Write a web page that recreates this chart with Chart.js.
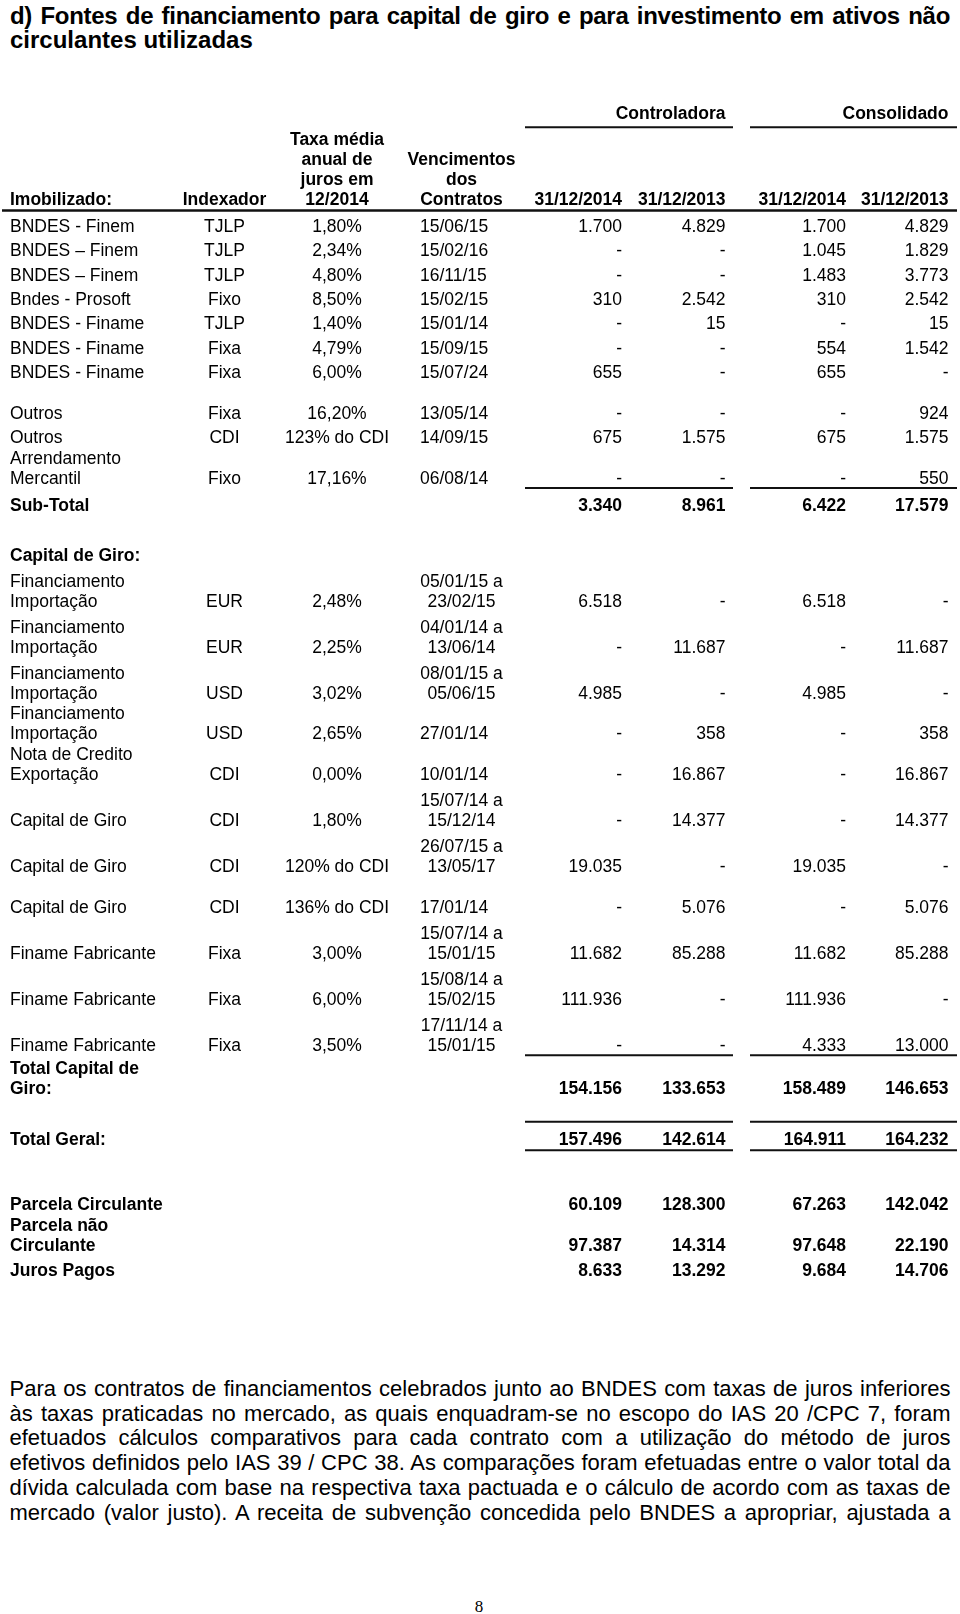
<!DOCTYPE html>
<html lang="pt-BR">
<head>
<meta charset="utf-8">
<title>Fontes de financiamento</title>
<script src="https://cdn.jsdelivr.net/npm/chart.js@4.4.1/dist/chart.umd.min.js"></script>
<style>
  html, body { margin: 0; padding: 0; background: #fff; }
  body { width: 960px; height: 1614px; position: relative; overflow: hidden;
         font-family: "Liberation Sans", Arial, sans-serif; color: #000; }
  #title { position: absolute; left: 10px; top: 3.8px; width: 940px;
           font-size: 24px; font-weight: bold; line-height: 23.7px; }
  #title .j { letter-spacing: -0.3px; }
  #chart { position: absolute; left: 0; top: 0; }
  #texto { position: absolute; left: 9.5px; top: 1377px; width: 941px;
           font-size: 22px; line-height: 24.7px; }
  .j { text-align: justify; text-align-last: justify; }
  #pagina { position: absolute; left: 0; width: 958px; top: 1597px; text-align: center;
            font-family: "Liberation Serif", "Times New Roman", serif; font-size: 17px; line-height: 20px; }
</style>
</head>
<body>
<div id="title">
  <div class="j">d) Fontes de financiamento para capital de giro e para investimento em ativos não</div>
  <div>circulantes utilizadas</div>
</div>
<canvas id="chart" width="960" height="1300" style="width:960px;height:1300px"></canvas>
<div id="texto">
  <div class="j">Para os contratos de financiamentos celebrados junto ao BNDES com taxas de juros inferiores</div>
  <div class="j">às taxas praticadas no mercado, as quais enquadram-se no escopo do IAS 20 /CPC 7, foram</div>
  <div class="j">efetuados cálculos comparativos para cada contrato com a utilização do método de juros</div>
  <div class="j">efetivos definidos pelo IAS 39 / CPC 38. As comparações foram efetuadas entre o valor total da</div>
  <div class="j">dívida calculada com base na respectiva taxa pactuada e o cálculo de acordo com as taxas de</div>
  <div class="j">mercado (valor justo). A receita de subvenção concedida pelo BNDES a apropriar, ajustada a</div>
</div>
<div id="pagina">8</div>
<script>
// table values, one array per column (null = empty cell, 0 = "-")
const groupLabels = ['Controladora', 'Consolidado'];
const headerLabels = ['Imobilizado:', 'Indexador', 'Taxa média\nanual de\njuros em\n12/2014',
  'Vencimentos\ndos\nContratos', '31/12/2014', '31/12/2013', '31/12/2014', '31/12/2013'];

const labels = ['BNDES - Finem', 'BNDES – Finem', 'BNDES – Finem', 'Bndes - Prosoft',
  'BNDES - Finame', 'BNDES - Finame', 'BNDES - Finame', 'Outros', 'Outros',
  'Arrendamento\nMercantil', 'Sub-Total', 'Capital de Giro:',
  'Financiamento\nImportação', 'Financiamento\nImportação', 'Financiamento\nImportação',
  'Financiamento\nImportação', 'Nota de Credito\nExportação', 'Capital de Giro',
  'Capital de Giro', 'Capital de Giro', 'Finame Fabricante', 'Finame Fabricante',
  'Finame Fabricante', 'Total Capital de\nGiro:', 'Total Geral:', 'Parcela Circulante',
  'Parcela não\nCirculante', 'Juros Pagos'];
const indexador = ['TJLP', 'TJLP', 'TJLP', 'Fixo', 'TJLP', 'Fixa', 'Fixa', 'Fixa', 'CDI', 'Fixo',
  null, null, 'EUR', 'EUR', 'USD', 'USD', 'CDI', 'CDI', 'CDI', 'CDI', 'Fixa', 'Fixa', 'Fixa',
  null, null, null, null, null];
const taxa = ['1,80%', '2,34%', '4,80%', '8,50%', '1,40%', '4,79%', '6,00%', '16,20%',
  '123% do CDI', '17,16%', null, null, '2,48%', '2,25%', '3,02%', '2,65%', '0,00%', '1,80%',
  '120% do CDI', '136% do CDI', '3,00%', '6,00%', '3,50%', null, null, null, null, null];
const vencimentos = ['15/06/15', '15/02/16', '16/11/15', '15/02/15', '15/01/14', '15/09/15',
  '15/07/24', '13/05/14', '14/09/15', '06/08/14', null, null, '05/01/15 a\n23/02/15',
  '04/01/14 a\n13/06/14', '08/01/15 a\n05/06/15', '27/01/14', '10/01/14', '15/07/14 a\n15/12/14',
  '26/07/15 a\n13/05/17', '17/01/14', '15/07/14 a\n15/01/15', '15/08/14 a\n15/02/15',
  '17/11/14 a\n15/01/15', null, null, null, null, null];
const ctrl2014 = [1700, 0, 0, 310, 0, 0, 655, 0, 675, 0, 3340, null, 6518, 0, 4985, 0, 0, 0,
  19035, 0, 11682, 111936, 0, 154156, 157496, 60109, 97387, 8633];
const ctrl2013 = [4829, 0, 0, 2542, 15, 0, 0, 0, 1575, 0, 8961, null, 0, 11687, 0, 358, 16867,
  14377, 0, 5076, 85288, 0, 0, 133653, 142614, 128300, 14314, 13292];
const cons2014 = [1700, 1045, 1483, 310, 0, 554, 655, 0, 675, 0, 6422, null, 6518, 0, 4985, 0,
  0, 0, 19035, 0, 11682, 111936, 4333, 158489, 164911, 67263, 97648, 9684];
const cons2013 = [4829, 1829, 3773, 2542, 15, 1542, 0, 924, 1575, 550, 17579, null, 0, 11687, 0,
  358, 16867, 14377, 0, 5076, 85288, 0, 13000, 146653, 164232, 142042, 22190, 14706];

// layout and style (table units = canvas px, mapped through the chart scales)
const FONT = '17.5px "Liberation Sans", Arial, sans-serif';
const LINE = 20;        // between lines of one cell
const STEP = 24.4;      // one-line row
const FIRST_ROW = 225.5;
const HEADER_BOTTOM = 199;
const GROUP_Y = 112.5;
const boldRows = [10, 11, 23, 24, 25, 26, 27];
const extraGap = { 7: 16, 10: 2.6, 11: 25.6, 19: 16.5, 23: 2, 24: 27, 25: 41, 26: 0, 27: 0.2 };
const rules = [{ row: 9, dy: 10.5 }, { row: 22, dy: 10.5 }, { row: 24, dy: -17 }, { row: 24, dy: 11.4 }];
const groupSpans = [[525, 733], [750, 957]];
const columns = [
  { x: 10, align: 'left' },
  { x: 224.5, align: 'center' },
  { x: 337, align: 'center' },
  { x: 461.5, align: 'center', singleX: 420, singleAlign: 'left' },
  { x: 622, align: 'right' },
  { x: 725.5, align: 'right' },
  { x: 846, align: 'right' },
  { x: 948.5, align: 'right' }
];

function fmt(v) {
  if (v === null || v === undefined) return null;
  if (typeof v === 'string') return v;
  if (v === 0) return '-';
  return String(v).replace(/\B(?=(\d{3})+(?!\d))/g, '.');
}

const cells = [labels, indexador, taxa, vencimentos, ctrl2014, ctrl2013, cons2014, cons2013]
  .map(col => col.map(fmt));

// bottom line position of every row, from the number of lines it holds
const rowY = [];
labels.forEach((_, i) => {
  if (i === 0) { rowY.push(FIRST_ROW); return; }
  const dateWraps = (vencimentos[i] || '').includes('\n');
  const wraps = cells.some(col => (col[i] || '').includes('\n'));
  let step = STEP + (dateWraps ? 21.6 : wraps ? 16.3 : 0) + (extraGap[i] || 0);
  rowY.push(rowY[i - 1] + step);
});

function drawLines(ctx, text, px, yBottom, align, ys) {
  const lines = text.split('\n');
  ctx.textAlign = align;
  lines.forEach((line, k) => {
    const y = ys.getPixelForValue(yBottom - (lines.length - 1 - k) * LINE);
    ctx.fillText(line, px, y + 6.2);
  });
}

const tableText = {
  id: 'tableText',
  afterDatasetsDraw(chart) {
    const ctx = chart.ctx;
    const xs = chart.scales.x, ys = chart.scales.y;
    ctx.save();
    ctx.fillStyle = '#000';
    ctx.strokeStyle = '#111';
    ctx.textBaseline = 'alphabetic';

    // group headers with their underline
    ctx.font = 'bold ' + FONT;
    groupLabels.forEach((g, k) => {
      drawLines(ctx, g, xs.getPixelForValue(columns[5 + 2 * k].x), GROUP_Y, 'right', ys);
    });
    const hline = (x0, x1, y, w) => {
      ctx.lineWidth = w;
      ctx.beginPath();
      ctx.moveTo(xs.getPixelForValue(x0), ys.getPixelForValue(y));
      ctx.lineTo(xs.getPixelForValue(x1), ys.getPixelForValue(y));
      ctx.stroke();
    };
    groupSpans.forEach(s => hline(s[0], s[1], 127.3, 2));

    // column headers
    headerLabels.forEach((h, c) => {
      drawLines(ctx, h, xs.getPixelForValue(columns[c].x), HEADER_BOTTOM, columns[c].align, ys);
    });
    hline(2, 957, 210.5, 2.5);

    // cells, placed at each point of the datasets
    chart.data.datasets.forEach((ds, c) => {
      const meta = chart.getDatasetMeta(c);
      const col = columns[c];
      meta.data.forEach((pt, i) => {
        const text = ds.cellText[i];
        if (!text) return;
        ctx.font = (boldRows.includes(i) ? 'bold ' : '') + FONT;
        let px = pt.x, align = col.align;
        if (col.singleX !== undefined && !text.includes('\n')) {
          px = xs.getPixelForValue(col.singleX);
          align = col.singleAlign;
        }
        drawLines(ctx, text, px, ys.getValueForPixel(pt.y), align, ys);
      });
    });

    // total rules under the value columns
    rules.forEach(r => {
      groupSpans.forEach(s => hline(s[0], s[1], rowY[r.row] + r.dy, 2));
    });
    ctx.restore();
  }
};

const datasets = columns.map((col, c) => ({
  label: headerLabels[c],
  data: rowY.map(y => ({ x: col.x, y: y })),
  cellText: cells[c],
  pointRadius: 0,
  pointHoverRadius: 0,
  showLine: false
}));

new Chart(document.getElementById('chart').getContext('2d'), {
  type: 'scatter',
  data: { datasets: datasets },
  options: {
    responsive: false,
    animation: false,
    devicePixelRatio: 1,
    layout: { padding: 0 },
    events: [],
    plugins: { legend: { display: false }, tooltip: { enabled: false } },
    scales: {
      x: { type: 'linear', min: 0, max: 960, display: false },
      y: { type: 'linear', min: 0, max: 1300, reverse: true, display: false }
    }
  },
  plugins: [tableText]
});
</script>
</body>
</html>
